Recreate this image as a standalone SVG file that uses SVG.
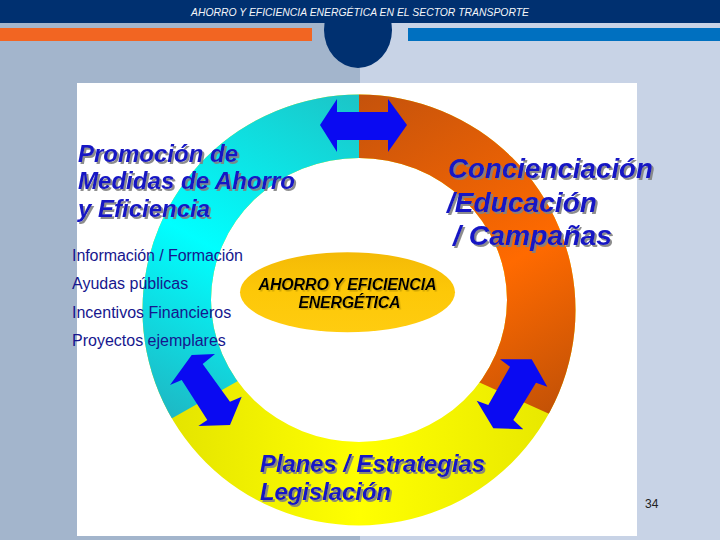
<svg xmlns="http://www.w3.org/2000/svg" width="720" height="540" viewBox="0 0 720 540">
<defs>
<style>
.title{font-family:"Liberation Sans",Arial,sans-serif;font-weight:bold;font-style:italic;fill:#1414c4;filter:url(#sh)}
.item{font-family:"Liberation Sans",Arial,sans-serif;font-size:16px;fill:#16168e}
.core{font-family:"Liberation Sans",Arial,sans-serif;font-weight:bold;font-style:italic;font-size:16px;fill:#000;text-anchor:middle;filter:url(#sh2)}
.arrow{fill:#0a0af2}
.hdr{font-family:"Liberation Sans",Arial,sans-serif;font-style:italic;font-size:11.5px;fill:#f4f6fa}
.pg{font-family:"Liberation Sans",Arial,sans-serif;font-size:12px;fill:#222}
</style>
<filter id="sh" x="-5%" y="-20%" width="115%" height="160%"><feDropShadow dx="2" dy="2" stdDeviation="0.6" flood-color="#808080" flood-opacity="0.9"/></filter>
<filter id="sh2" x="-5%" y="-20%" width="115%" height="160%"><feDropShadow dx="1.5" dy="1.5" stdDeviation="0.6" flood-color="#a08000" flood-opacity="0.5"/></filter>
<clipPath id="donut"><path clip-rule="evenodd" d="M142.5,310 A216.5,215.5 0 1 0 575.5,310 A216.5,215.5 0 1 0 142.5,310 Z M211,300 A148,142 0 1 0 507,300 A148,142 0 1 0 211,300 Z"/></clipPath>
<linearGradient id="gc" gradientUnits="userSpaceOnUse" x1="359" y1="94" x2="175" y2="420"><stop offset="0" stop-color="#1cc4c6"/><stop offset="0.55" stop-color="#00ffff"/><stop offset="1" stop-color="#1eb8c4"/></linearGradient>
<linearGradient id="go" gradientUnits="userSpaceOnUse" x1="359" y1="94" x2="547" y2="413"><stop offset="0" stop-color="#c4520c"/><stop offset="0.6" stop-color="#ff6a00"/><stop offset="1" stop-color="#c45206"/></linearGradient>
<linearGradient id="gy" gradientUnits="userSpaceOnUse" x1="170" y1="0" x2="550" y2="0"><stop offset="0" stop-color="#e4e400"/><stop offset="0.5" stop-color="#ffff00"/><stop offset="1" stop-color="#e8e800"/></linearGradient>
<linearGradient id="ge" x1="0" y1="0" x2="0" y2="1"><stop offset="0" stop-color="#f4ba06"/><stop offset="0.5" stop-color="#fdc808"/><stop offset="1" stop-color="#ffcc10"/></linearGradient>
</defs>

<g id="background">
<rect x="0" y="0" width="360" height="540" fill="#a3b5cc"/>
<rect x="360" y="0" width="360" height="540" fill="#c8d3e6"/>
<rect x="0" y="28" width="312" height="13" fill="#f26522"/>
<rect x="408" y="28" width="312" height="13" fill="#0070c0"/>
<ellipse cx="358" cy="30" rx="34" ry="38" fill="#003070"/>
<rect x="0" y="0" width="720" height="23" fill="#003070"/>
<text class="hdr" x="360" y="16" text-anchor="middle" textLength="338" lengthAdjust="spacingAndGlyphs">AHORRO Y EFICIENCIA ENERGÉTICA EN EL SECTOR TRANSPORTE</text>
<rect x="77" y="83" width="560" height="453" fill="#ffffff"/>
</g>

<g id="ring" clip-path="url(#donut)">
<rect x="100" y="60" width="520" height="480" fill="url(#gy)"/>
<polygon points="359,60 100,60 100,459 359,312.5" fill="url(#gc)"/>
<polygon points="359,60 620,60 620,446 359,328" fill="url(#go)"/>
</g>

<g id="connectors">
<polygon class="arrow" points="320,125 337,99 337,112 388,112 388,99 407,125 388,152 388,140 337,140 337,152"/>
<polygon class="arrow" points="191.7,355 215,354 202.7,364 230,401.7 241.7,396.7 230,425 198.3,426 207.3,420 181.7,380 170,385"/>
<polygon class="arrow" points="500,359.3 531.7,359.3 547.3,386.7 536,382.7 513.3,420 523.3,429.3 493.3,428.3 476.7,400.7 488.3,405 510,366.7"/>
</g>

<g id="node-promocion">
<text class="title" font-size="24" x="78" y="161.7" textLength="160" lengthAdjust="spacingAndGlyphs">Promoción de</text>
<text class="title" font-size="24" x="78" y="189.3" textLength="217" lengthAdjust="spacingAndGlyphs">Medidas de Ahorro</text>
<text class="title" font-size="24" x="78" y="216.7" textLength="132" lengthAdjust="spacingAndGlyphs">y Eficiencia</text>
</g>

<g id="node-medidas">
<text class="item" x="72" y="261" textLength="171" lengthAdjust="spacing">Información / Formación</text>
<text class="item" x="72" y="289.3">Ayudas públicas</text>
<text class="item" x="72" y="317.7">Incentivos Financieros</text>
<text class="item" x="72" y="346">Proyectos ejemplares</text>
</g>

<g id="node-concienciacion">
<text class="title" font-size="28" x="448" y="178" textLength="205" lengthAdjust="spacingAndGlyphs">Concienciación</text>
<text class="title" font-size="28" x="447" y="211.7" textLength="150" lengthAdjust="spacingAndGlyphs">/Educación</text>
<text class="title" font-size="28" x="453" y="245" textLength="159" lengthAdjust="spacingAndGlyphs">/ Campañas</text>
</g>

<g id="node-planes">
<text class="title" font-size="24" x="260" y="471.7" textLength="225" lengthAdjust="spacingAndGlyphs">Planes / Estrategias</text>
<text class="title" font-size="24" x="260" y="500" textLength="131" lengthAdjust="spacingAndGlyphs">Legislación</text>
</g>

<g id="node-centro">
<ellipse cx="347.5" cy="292.3" rx="107.5" ry="40" fill="url(#ge)"/>
<text class="core" x="347.5" y="290" textLength="178" lengthAdjust="spacing">AHORRO Y EFICIENCIA</text>
<text class="core" x="349.5" y="308.3" textLength="102" lengthAdjust="spacing">ENERGÉTICA</text>
</g>

<text class="pg" x="645" y="508">34</text>
</svg>
